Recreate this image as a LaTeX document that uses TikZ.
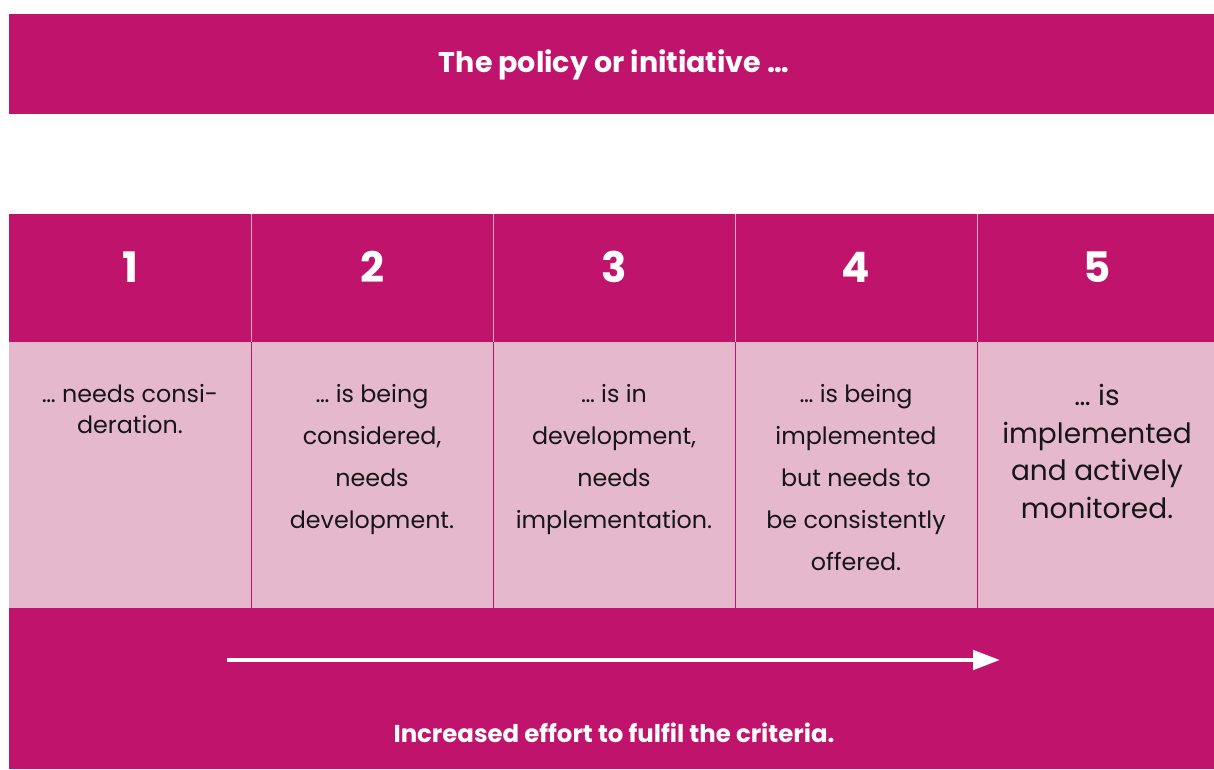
\documentclass[tikz,border=0pt]{standalone}
\usepackage{fontspec}
\setmainfont{Poppins}
\usetikzlibrary{arrows.meta}
\definecolor{mag}{HTML}{C0136C}
\definecolor{pinkl}{HTML}{E5B8CC}
\definecolor{hdrline}{HTML}{EBA9C8}
\definecolor{ink}{HTML}{161616}
\begin{document}
\begin{tikzpicture}[x=1pt,y=-1pt,
  titletxt/.style={anchor=base,inner sep=0,text=white,font=\fontsize{28.5}{32}\selectfont\bfseries},
  numtxt/.style={anchor=base,inner sep=0,text=white,font=\fontsize{42}{48}\selectfont\bfseries},
  celltxt/.style={anchor=base,inner sep=0,text=ink,font=\fontsize{23.8}{28}\selectfont},
  bigtxt/.style={anchor=base,inner sep=0,text=ink,font=\fontsize{28}{32}\selectfont},
  foottxt/.style={anchor=base,inner sep=0,text=white,font=\fontsize{24.4}{28}\selectfont\bfseries},
  hdiv/.style={draw=hdrline,line width=0.8pt},
  ldiv/.style={draw=mag,line width=0.8pt},
  effort/.style={draw=white,line width=4.7pt,-{Triangle[length=27pt,width=19pt]}}
]
\useasboundingbox (0,0) rectangle (1214,769);
% bars
\fill[mag] (9,14) rectangle (1214,114);
\fill[mag] (9,214) rectangle (1214,342);
\fill[pinkl] (9,342) rectangle (1214,608);
\fill[mag] (9,608) rectangle (1214,769);
% dividers
\foreach \x in {251,493,735,977}{
  \draw[hdiv] (\x,214) -- (\x,342);
  \draw[ldiv] (\x,342) -- (\x,608);
}
% title
\node[titletxt] (title) at (614,72) {The policy or initiative …};
% numbers
\node[numtxt] (n1) at (130,282) {1};
\node[numtxt] (n2) at (372,282) {2};
\node[numtxt] (n3) at (614,282) {3};
\node[numtxt] (n4) at (856,282) {4};
\node[numtxt] (n5) at (1097,282) {5};
% column 1
\node[celltxt] (c1a) at (130,402) {… needs consi-};
\node[celltxt] (c1b) at (130,433) {deration.};
% column 2
\node[celltxt] (c2a) at (372,402) {… is being};
\node[celltxt] (c2b) at (372,444) {considered,};
\node[celltxt] (c2c) at (372,486) {needs};
\node[celltxt] (c2d) at (372,528) {development.};
% column 3
\node[celltxt] (c3a) at (614,402) {… is in};
\node[celltxt] (c3b) at (614,444) {development,};
\node[celltxt] (c3c) at (614,486) {needs};
\node[celltxt] (c3d) at (614,528) {implementation.};
% column 4
\node[celltxt] (c4a) at (856,402) {… is being};
\node[celltxt] (c4b) at (856,444) {implemented};
\node[celltxt] (c4c) at (856,486) {but needs to};
\node[celltxt] (c4d) at (856,528) {be consistently};
\node[celltxt] (c4e) at (856,570) {offered.};
% column 5
\node[bigtxt] (c5a) at (1097,405) {… is};
\node[bigtxt] (c5b) at (1097,443) {implemented};
\node[bigtxt] (c5c) at (1097,480) {and actively};
\node[bigtxt] (c5d) at (1097,518) {monitored.};
% arrow
\coordinate (as) at (227,660);
\coordinate (ae) at (1000,660);
\draw[effort] (as) -- (ae);
% footer
\node[foottxt] (foot) at (614,742) {Increased effort to fulfil the criteria.};
\end{tikzpicture}
\end{document}
